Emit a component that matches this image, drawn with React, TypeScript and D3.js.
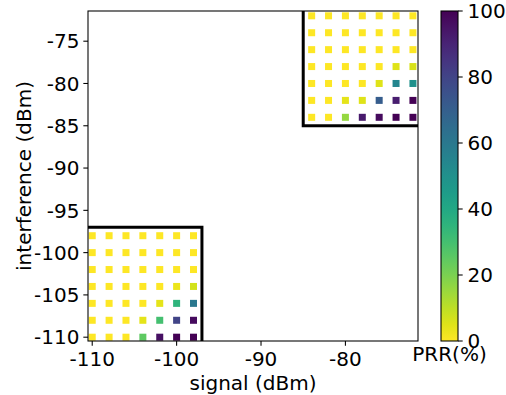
import React from "react";
import * as d3 from "d3";

// Grid coordinates (dBm)
const lowSignal = [-110, -108, -106, -104, -102, -100, -98];
const lowInterf = [-98, -100, -102, -104, -106, -108, -110];
const lowPRR = [
  [0, 0, 0, 0, 0, 0, 0],
  [0, 0, 0, 0, 0, 0, 0],
  [0, 0, 0, 0, 0, 0, 0],
  [0, 0, 0, 0, 0, 3, 7],
  [0, 0, 0, 0, 4, 35, 60],
  [0, 0, 0, 4, 30, 80, 97],
  [0, 0, 0, 25, 96, 100, 100],
];

const highSignal = [-84, -82, -80, -78, -76, -74, -72];
const highInterf = [-72, -74, -76, -78, -80, -82, -84];
const highPRR = [
  [0, 0, 0, 0, 0, 0, 0],
  [0, 0, 0, 0, 0, 0, 0],
  [0, 0, 0, 0, 0, 0, 0],
  [0, 0, 0, 0, 0, 5, 6],
  [0, 0, 0, 0, 5, 54, 50],
  [0, 0, 4, 5, 71, 92, 100],
  [0, 0, 16, 93, 97, 100, 100],
];

const xTicks = [-110, -100, -90, -80];
const yTicks = [-75, -80, -85, -90, -95, -100, -105, -110];
const cbTicks = [0, 20, 40, 60, 80, 100];
// highlighted boxes: [x0, y0, x1, y1]
const boxes = [
  [-111, -111, -97, -97],
  [-85, -85, -71, -71],
];

const W = 506;
const H = 395;
const L = 88, R = 418, T = 11, B = 341;
const FONT = "DejaVu Sans, sans-serif";
const FS = 20;

export default function App() {
  const x = d3.scaleLinear().domain([-110.5, -71.4]).range([L, R]);
  const y = d3.scaleLinear().domain([-110.45, -71.43]).range([B, T]);
  const color = (v: number) => d3.interpolateViridis(1 - v / 100);
  const cb = d3.scaleLinear().domain([0, 100]).range([B, T]);
  const cbL = 441, cbR = 458;
  const sq = 7;

  const points: { sx: number; iy: number; v: number }[] = [];
  lowInterf.forEach((iv, r) =>
    lowSignal.forEach((sv, c) => points.push({ sx: sv, iy: iv, v: lowPRR[r][c] }))
  );
  highInterf.forEach((iv, r) =>
    highSignal.forEach((sv, c) => points.push({ sx: sv, iy: iv, v: highPRR[r][c] }))
  );

  const stops = d3.range(0, 1.0001, 0.05);
  const tickLen = 4.67;

  return (
    <svg width={W} height={H} style={{ position: "absolute", left: 0, top: 0, background: "#fff" }}>
      <defs>
        <clipPath id="plotclip">
          <rect x={L} y={T} width={R - L} height={B - T} />
        </clipPath>
        <linearGradient id="cbgrad" x1="0" y1="1" x2="0" y2="0">
          {stops.map((t) => (
            <stop key={t} offset={t} stopColor={d3.interpolateViridis(1 - t)} />
          ))}
        </linearGradient>
      </defs>
      <rect x={0} y={0} width={W} height={H} fill="#fff" />
      <g clipPath="url(#plotclip)">
        {points.map((p, i) => (
          <rect
            key={i}
            x={x(p.sx) - sq / 2}
            y={y(p.iy) - sq / 2}
            width={sq}
            height={sq}
            fill={color(p.v)}
          />
        ))}
        {boxes.map((b, i) => (
          <rect
            key={i}
            x={x(b[0])}
            y={y(b[3])}
            width={x(b[2]) - x(b[0])}
            height={y(b[1]) - y(b[3])}
            fill="none"
            stroke="#000"
            strokeWidth={3}
          />
        ))}
      </g>
      {/* spines */}
      <rect x={L} y={T} width={R - L} height={B - T} fill="none" stroke="#000" strokeWidth={1.07} />
      {/* x ticks */}
      {xTicks.map((t) => (
        <g key={t}>
          <line x1={x(t)} x2={x(t)} y1={B} y2={B + tickLen} stroke="#000" strokeWidth={1.07} />
          <text x={x(t)} y={366} textAnchor="middle" fontFamily={FONT} fontSize={FS}>
            {t}
          </text>
        </g>
      ))}
      {yTicks.map((t) => (
        <g key={t}>
          <line x1={L - tickLen} x2={L} y1={y(t)} y2={y(t)} stroke="#000" strokeWidth={1.07} />
          <text x={79.5} y={y(t)} dy="0.36em" textAnchor="end" fontFamily={FONT} fontSize={FS}>
            {t}
          </text>
        </g>
      ))}
      <text x={(L + R) / 2} y={389.5} textAnchor="middle" fontFamily={FONT} fontSize={FS}>
        signal (dBm)
      </text>
      <text
        transform={`translate(30.5, ${(T + B) / 2}) rotate(-90)`}
        textAnchor="middle"
        fontFamily={FONT}
        fontSize={FS}
      >
        interference (dBm)
      </text>
      {/* colorbar */}
      <rect x={cbL} y={T} width={cbR - cbL} height={B - T} fill="url(#cbgrad)" />
      <rect x={cbL} y={T} width={cbR - cbL} height={B - T} fill="none" stroke="#000" strokeWidth={1.07} />
      {cbTicks.map((t) => (
        <g key={t}>
          <line x1={cbR} x2={cbR + tickLen} y1={cb(t)} y2={cb(t)} stroke="#000" strokeWidth={1.07} />
          <text x={467.5} y={cb(t)} dy="0.36em" fontFamily={FONT} fontSize={FS}>
            {t}
          </text>
        </g>
      ))}
      <text x={449.5} y={361} textAnchor="middle" fontFamily={FONT} fontSize={FS}>
        PRR(%)
      </text>
    </svg>
  );
}
